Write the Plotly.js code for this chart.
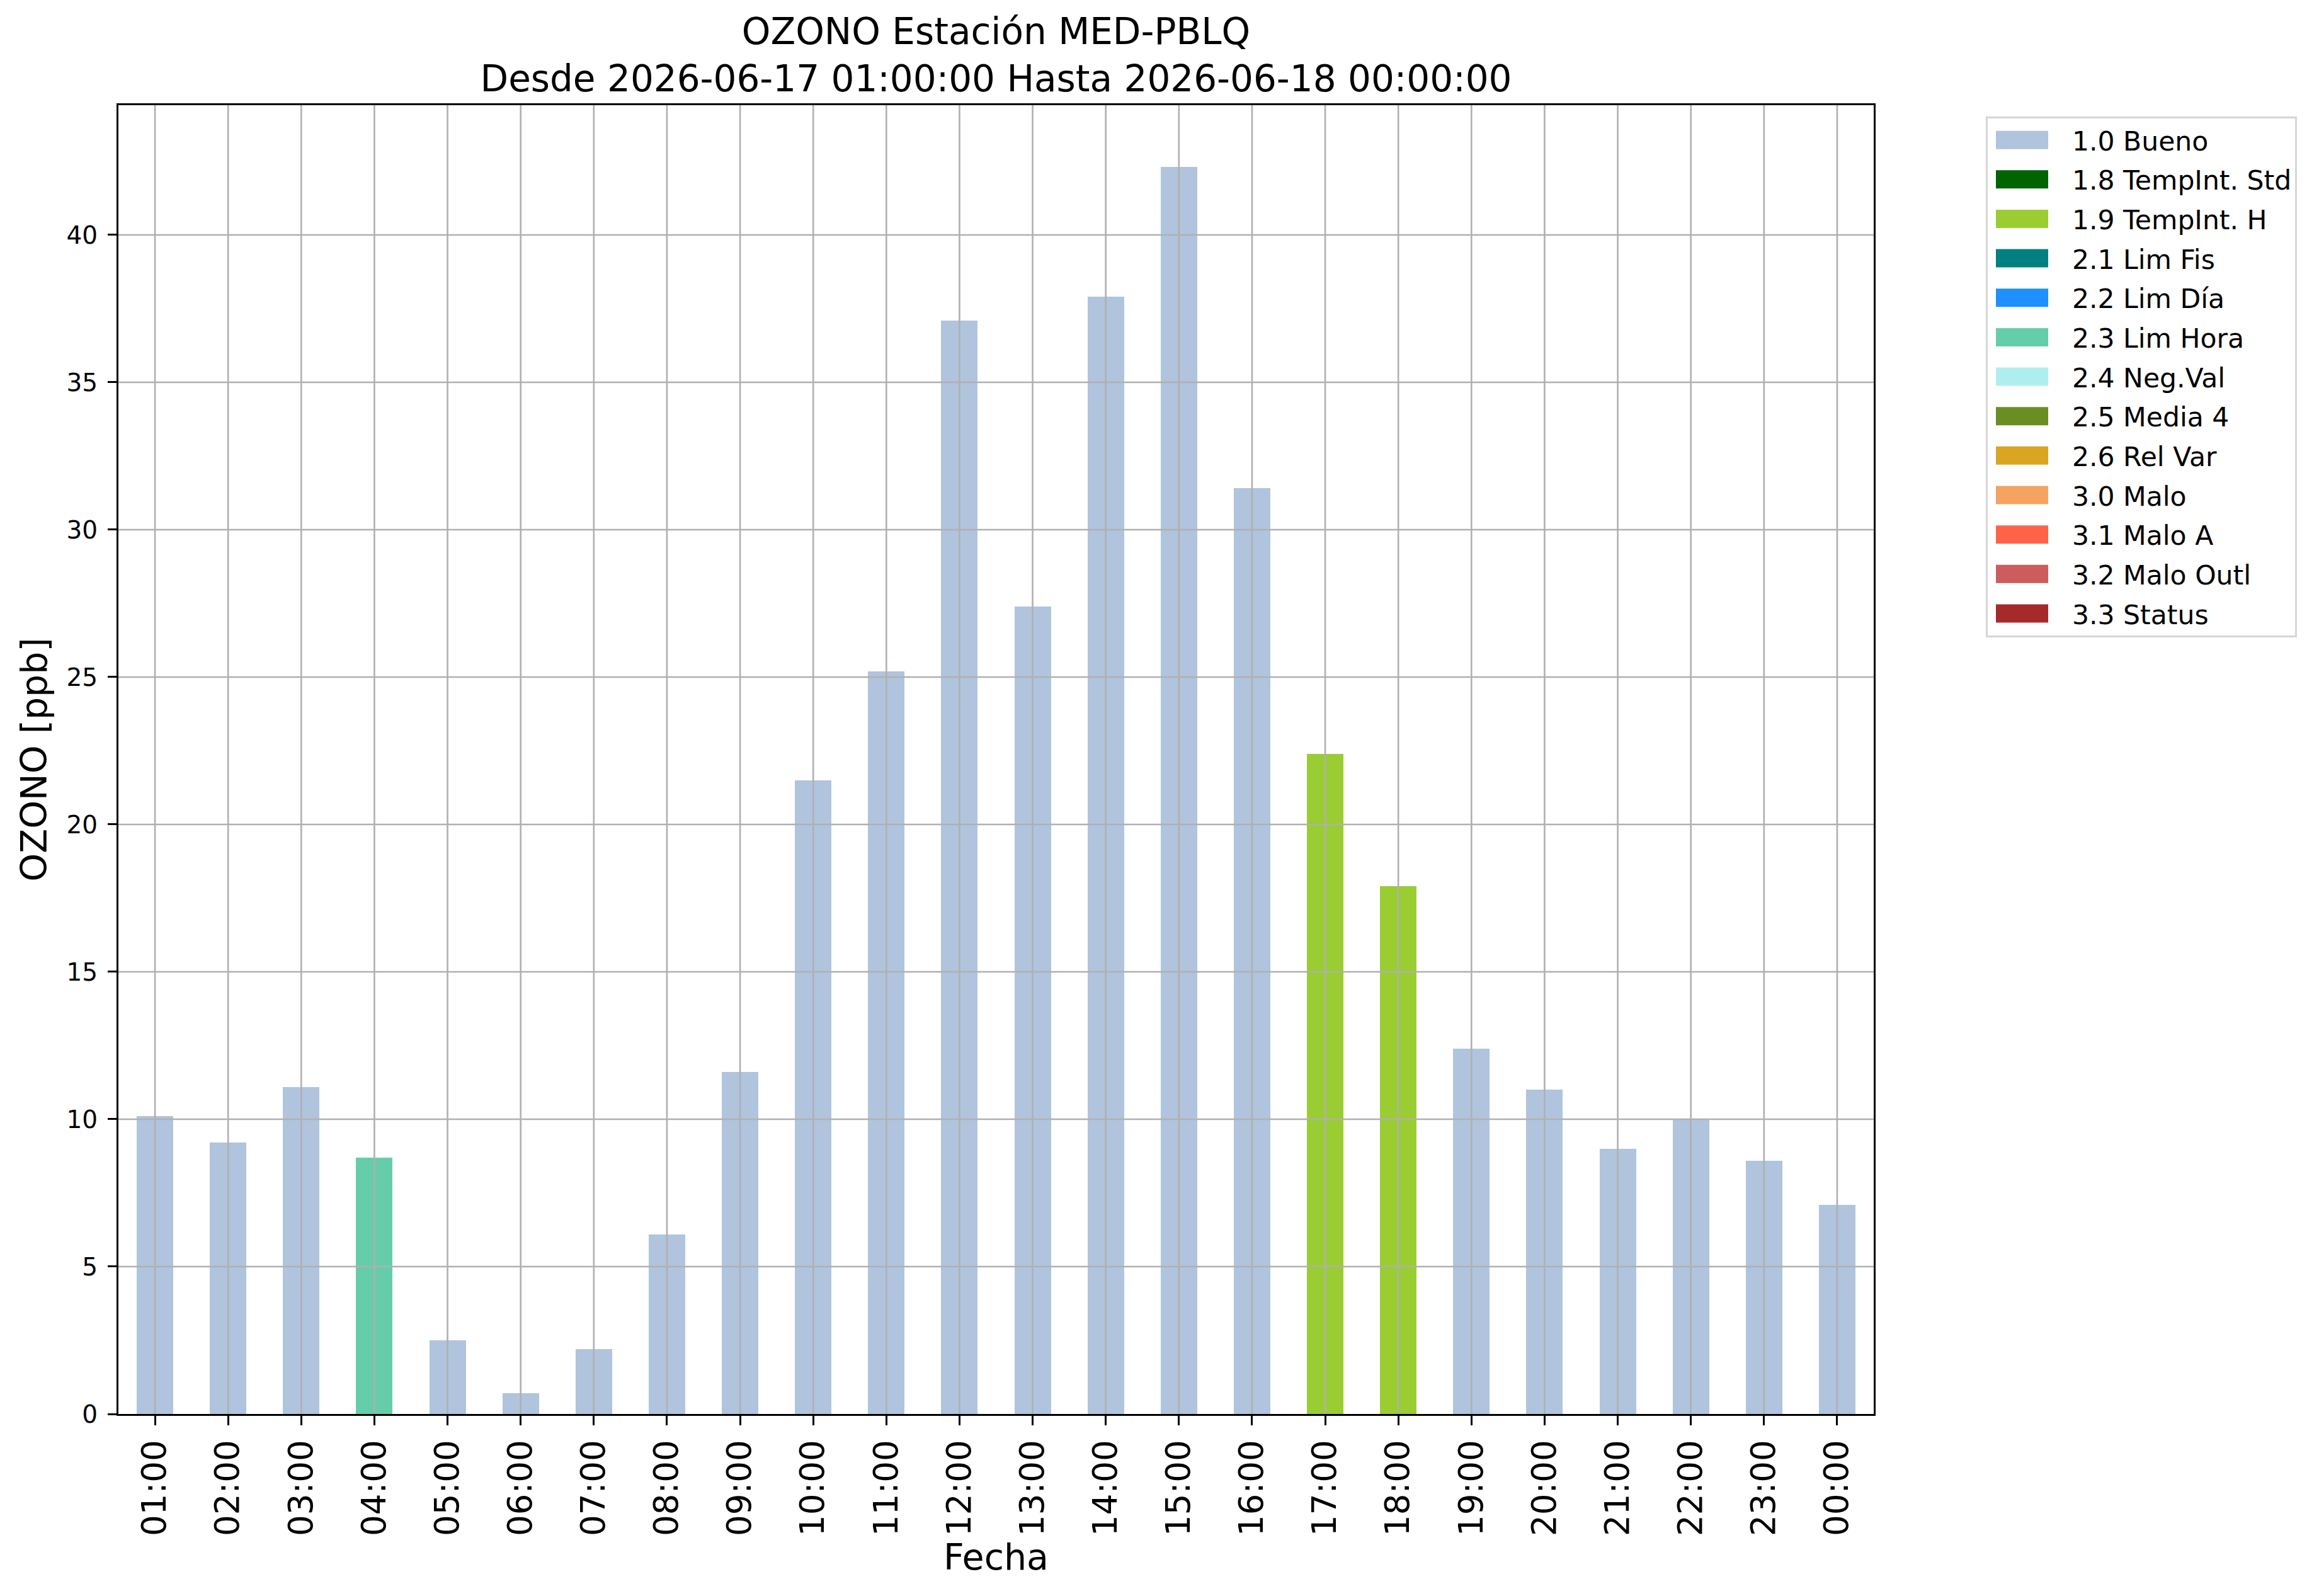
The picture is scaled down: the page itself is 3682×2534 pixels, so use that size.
<!DOCTYPE html>
<html>
<head>
<meta charset="utf-8">
<script src="https://cdn.plot.ly/plotly-3.0.1.min.js"></script>
<style>
  html, body { margin: 0; padding: 0; background: #ffffff; }
  #chart { width: 3682px; height: 2534px; }
</style>
</head>
<body>
<div id="chart"></div>
<script>
// ---- data ----
const hours = ["01:00","02:00","03:00","04:00","05:00","06:00","07:00","08:00","09:00","10:00","11:00","12:00",
               "13:00","14:00","15:00","16:00","17:00","18:00","19:00","20:00","21:00","22:00","23:00","00:00"];
const ozone = [10.1, 9.2, 11.1, 8.7, 2.5, 0.7, 2.2, 6.1, 11.6, 21.5, 25.2, 37.1,
               27.4, 37.9, 42.3, 31.4, 22.4, 17.9, 12.4, 11.0, 9.0, 10.0, 8.6, 7.1];
const hourFlags = ["1.0 Bueno","1.0 Bueno","1.0 Bueno","2.3 Lim Hora","1.0 Bueno","1.0 Bueno","1.0 Bueno","1.0 Bueno",
                   "1.0 Bueno","1.0 Bueno","1.0 Bueno","1.0 Bueno","1.0 Bueno","1.0 Bueno","1.0 Bueno","1.0 Bueno",
                   "1.9 TempInt. H","1.9 TempInt. H","1.0 Bueno","1.0 Bueno","1.0 Bueno","1.0 Bueno","1.0 Bueno","1.0 Bueno"];
const flagNames = ["1.0 Bueno","1.8 TempInt. Std","1.9 TempInt. H","2.1 Lim Fis","2.2 Lim Día","2.3 Lim Hora",
                   "2.4 Neg.Val","2.5 Media 4","2.6 Rel Var","3.0 Malo","3.1 Malo A","3.2 Malo Outl","3.3 Status"];
const flagColors = ["#b0c4de","#006400","#9acd32","#008080","#1e90ff","#66cdaa",
                    "#afeeee","#6b8e23","#daa520","#f4a460","#ff6347","#cd5c5c","#a52a2a"];
const yTicks = [0, 5, 10, 15, 20, 25, 30, 35, 40];
const titleText = "OZONO Estación MED-PBLQ<br>Desde 2026-06-17 01:00:00 Hasta 2026-06-18 00:00:00";
const xTitle = "Fecha";
const yTitle = "OZONO [ppb]";

// ---- traces ----
const FONT = "DejaVu Sans, Verdana, sans-serif";
const traces = flagNames.map((name, k) => ({
  type: "bar",
  name: name,
  legendgroup: name,
  x: hours,
  y: ozone.map((v, i) => hourFlags[i] === name ? v : 0),
  marker: { color: flagColors[k], line: { width: 0 } },
  hoverinfo: "x+y+name"
}));

const gridColor = "#b0b0b0";
const gridW = 2.6;
const shapes = [];
hours.forEach(h => shapes.push({
  type: "line", layer: "above", xref: "x", yref: "paper",
  x0: h, x1: h, y0: 0, y1: 1, line: { color: gridColor, width: gridW }
}));
yTicks.slice(1).forEach(t => shapes.push({
  type: "line", layer: "above", xref: "paper", yref: "y",
  x0: 0, x1: 1, y0: t, y1: t, line: { color: gridColor, width: gridW }
}));

const ITEMW = 124;
const layout = {
  width: 3682, height: 2534,
  paper_bgcolor: "#ffffff", plot_bgcolor: "#ffffff",
  margin: { l: 188, r: 707, t: 167, b: 289, pad: 0 },
  font: { family: FONT, color: "#000000", size: 39 },
  title: {
    text: titleText,
    font: { family: FONT, size: 58, color: "#000000" },
    x: 0.5, xref: "paper", xanchor: "center",
    y: 1, yref: "paper", yanchor: "bottom",
    pad: { b: 97 }
  },
  barmode: "stack",
  bargap: 0.5,
  showlegend: true,
  legend: {
    x: (3153 - 188) / 2787, y: (2245 - 185) / 2078, xref: "paper", yref: "paper",
    xanchor: "left", yanchor: "top",
    bgcolor: "#ffffff", bordercolor: "#d6d6d6", borderwidth: 3,
    font: { family: FONT, size: 42.5, color: "#000000" },
    traceorder: "grouped", tracegroupgap: 4.4,
    itemwidth: ITEMW
  },
  xaxis: {
    type: "category",
    range: [-0.5, hours.length - 0.5],
    showgrid: false, zeroline: false,
    showline: true, linecolor: "#000000", linewidth: 3, mirror: true,
    ticks: "outside", ticklen: 15, tickwidth: 3, tickcolor: "#000000",
    tickangle: -90,
    ticklabelstandoff: 2,
    tickfont: { family: FONT, size: 53, color: "#000000" },
    title: { text: xTitle, font: { family: FONT, size: 57, color: "#000000" }, standoff: 0 },
    automargin: false
  },
  yaxis: {
    range: [0, 44.4],
    tickmode: "array", tickvals: yTicks, ticktext: yTicks.map(String),
    showgrid: false, zeroline: false,
    showline: true, linecolor: "#000000", linewidth: 3, mirror: true,
    ticks: "outside", ticklen: 14, tickwidth: 3, tickcolor: "#000000",
    ticklabelstandoff: 8,
    tickfont: { family: FONT, size: 39, color: "#000000" },
    title: { text: yTitle, font: { family: FONT, size: 57, color: "#000000" }, standoff: 13 },
    automargin: false
  },
  shapes: shapes
};

Plotly.newPlot("chart", traces, layout, { staticPlot: true, displayModeBar: false }).then(() => {
  // widen the legend swatches to matplotlib-style patches
  const cx = -(ITEMW - 100) / 2 - 0.5;
  document.querySelectorAll(".legend .legendpoints path").forEach(p => {
    p.setAttribute("d", `M${cx - 41.5},-14.5H${cx + 41.5}V14.5H${cx - 41.5}Z`);
  });
});
</script>
</body>
</html>
